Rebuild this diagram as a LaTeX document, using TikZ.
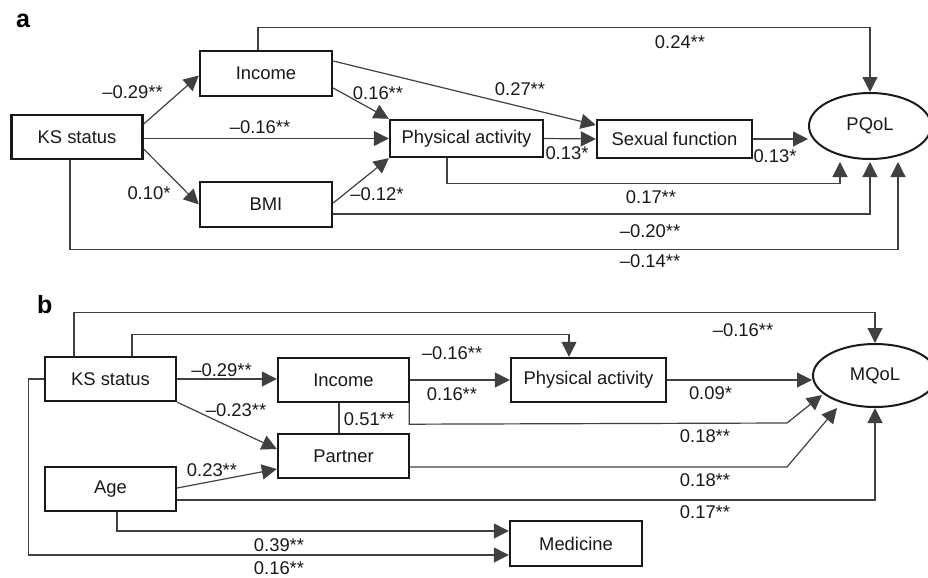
\documentclass[tikz,border=0pt]{standalone}
\usepackage{fontspec}
\setmainfont{Liberation Sans}
\usetikzlibrary{arrows.meta}
\usetikzlibrary{calc}
\usetikzlibrary{shapes.geometric}
\newcommand{\coeffont}{\fontsize{9.2}{11}\selectfont}
\newcommand{\panelfont}{\bfseries\fontsize{12.5}{14}\selectfont}

\begin{document}
\begin{tikzpicture}[x=0.5pt,y=-0.5pt,
varbox/.style={draw=black!90,line width=1.2pt,inner sep=0pt,minimum width=65.5pt,minimum height=22pt,text=black!90,font=\coeffont},
qolnode/.style={draw=black!90,ellipse,line width=1pt,inner sep=0pt,text=black!90,font=\coeffont},
link/.style={draw=black!75,line width=0.6pt},
arr/.style={link,-{Triangle[length=7.5pt,width=7.5pt]}},
coef/.style={inner sep=0pt,text=black!90,font=\coeffont}]
\useasboundingbox (0,0) rectangle (928,578);

%panel a
\node[font=\panelfont,anchor=base west] (taga) at (9,27) {a};

%boxes
\node[varbox] (ksa) at (77,137) {KS status};
\node[varbox,minimum width=66pt,minimum height=22.5pt] (inca) at (266,73.5) {Income};
\node[varbox,minimum width=66pt,minimum height=22.5pt] (bmia) at (266,204.5) {BMI};
\node[varbox,minimum width=76.5pt,minimum height=18.5pt] (paa) at (466.5,138.5) {Physical activity};
\node[varbox,minimum width=77.5pt,minimum height=19pt] (sfa) at (674.5,139) {Sexual function};
\node[qolnode,minimum width=61pt,minimum height=33pt] (pqol) at (870,126) {PQoL};

%paths
\draw[arr] ($(ksa.east)+(0,-13)$) -- ($(inca.west)+(0,2)$);
\draw[arr] (ksa.east |- paa.west) -- (paa.west);
\draw[arr] ($(ksa.east)+(0,12)$) -- (bmia.west);
\draw[arr] ($(inca.east)+(0,14.5)$) -- (paa.north west);
\draw[arr] ($(bmia.east)+(0,-1.5)$) -- (paa.south west);
\draw[arr] ($(inca.east)+(0,-12.5)$) -- ($(sfa.west)+(0,-14)$);
\draw[arr] ($(inca.north)+(-8,0)$) -- ++(0,-22) -| (pqol.north);
\draw[arr] (paa.east) -- (sfa.west);
\draw[arr] (sfa.east) -- (sfa.east -| pqol.west);
\draw[arr] ($(paa.south)+(-19.5,0)$) -- ++(0,25) -| ($(pqol.south)+(-30,2)$);
\draw[arr] ($(bmia.east)+(0,9.5)$) -| ($(pqol.south)+(0,2)$);
\draw[arr] ($(ksa.south)+(-7,0)$) -- ++(0,89) -| ($(pqol.south)+(28,2)$);

%coefficients
\node[coef] (wa1) at (132.5,92) {--0.29**};
\node[coef] (wa2) at (260,127) {--0.16**};
\node[coef] (wa3) at (149,193.5) {0.10*};
\node[coef] (wa4) at (378,93) {0.16**};
\node[coef] (wa5) at (377,194.5) {--0.12*};
\node[coef] (wa6) at (520,89) {0.27**};
\node[coef] (wa7) at (680,42) {0.24**};
\node[coef] (wa8) at (567,153.5) {0.13*};
\node[coef] (wa9) at (775,156) {0.13*};
\node[coef] (wa10) at (651,197) {0.17**};
\node[coef] (wa11) at (650,231) {--0.20**};
\node[coef] (wa12) at (650,261) {--0.14**};

%panel b
\node[font=\panelfont,anchor=base west] (tagb) at (30,313) {b};

%boxes
\node[varbox] (ksb) at (110.5,379) {KS status};
\node[varbox] (incb) at (343.5,380) {Income};
\node[varbox] (partb) at (343.5,456) {Partner};
\node[varbox] (ageb) at (110.5,489) {Age};
\node[varbox,minimum width=77.5pt] (pab) at (588.5,380) {Physical activity};
\node[varbox,minimum width=66pt,minimum height=22.5pt] (medb) at (576,543.5) {Medicine};
\node[qolnode,minimum width=62pt,minimum height=31.5pt] (mqol) at (875,375.5) {MQoL};

%paths
\draw[arr] (ksb.east) -- (ksb.east -| incb.west);
\draw[arr] (ksb.south east) -- ($(partb.west)+(0,-7)$);
\draw[arr] ($(ageb.east)+(0,-1)$) -- ($(partb.west)+(0,13)$);
\draw[link] ($(incb.south)+(-4.5,0)$) -- ($(partb.north)+(-4.5,0)$);
\draw[arr] ($(ksb.north)+(-36.5,0)$) -- ++(0,-43) -| (mqol.north);
\draw[arr] ($(ksb.north)+(21.5,0)$) -- ++(0,-21) -| ($(pab.north)+(-19.5,0)$);
\draw[arr] (incb.east) -- (pab.west);
\draw[arr] (pab.east) -- (pab.east -| mqol.west);
\draw[arr] ($(incb.south east)+(-1,0)$) -- ++(0,21) -- (787,423) -- ($(mqol.west)+(10,19.5)$);
\draw[arr] ($(partb.east)+(0,11)$) -- (787,467) -- ($(mqol.south)+(-38,0)$);
\draw[arr] ($(ageb.east)+(0,11)$) -| (mqol.south);
\draw[arr] ($(ageb.south)+(6.5,0)$) |- ($(medb.west)+(0,-12.5)$);
\draw[arr] (ksb.west) -- ++(-15,0) |- ($(medb.west)+(0,11.5)$);

%coefficients
\node[coef] (wb1) at (221.5,370) {--0.29**};
\node[coef] (wb2) at (236,410) {--0.23**};
\node[coef] (wb3) at (212,470.5) {0.23**};
\node[coef] (wb4) at (369,419) {0.51**};
\node[coef] (wb5) at (743,330) {--0.16**};
\node[coef] (wb6) at (452,353) {--0.16**};
\node[coef] (wb7) at (452,394.5) {0.16**};
\node[coef] (wb8) at (710.5,393.5) {0.09*};
\node[coef] (wb9) at (705,436.5) {0.18**};
\node[coef] (wb10) at (705,480.5) {0.18**};
\node[coef] (wb11) at (705,512) {0.17**};
\node[coef] (wb12) at (279,545) {0.39**};
\node[coef] (wb13) at (279,568.5) {0.16**};
\end{tikzpicture}
\end{document}
